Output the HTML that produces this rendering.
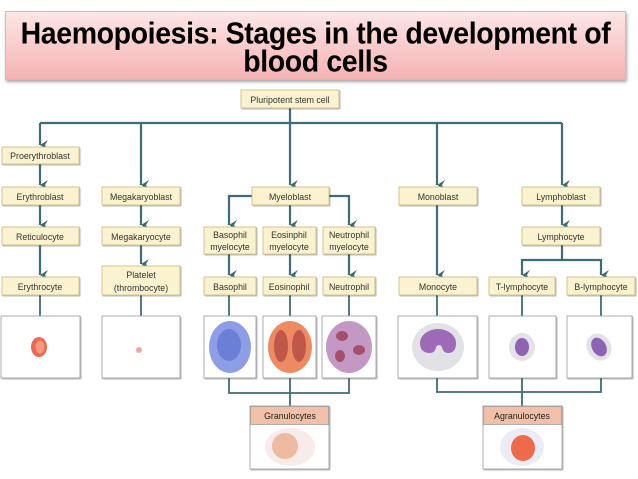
<!DOCTYPE html>
<html><head><meta charset="utf-8"><style>
html,body{margin:0;padding:0;background:#fff;}
body{width:638px;height:479px;overflow:hidden;position:relative;font-family:"Liberation Sans",Arial,sans-serif;}
.title{position:absolute;left:5px;top:11px;width:621px;height:69px;border:1px solid #d8b8b8;box-shadow:1px 2px 3px rgba(0,0,0,0.35);background:linear-gradient(#fde6e6,#f5b3b3);text-align:center;color:#000;box-sizing:border-box;}
.title span{display:block;font-weight:bold;font-size:28.5px;line-height:26px;letter-spacing:-0.4px;transform:scaleY(1.08);transform-origin:50% 0;padding-top:7px;}
svg{position:absolute;left:0;top:0;}
</style></head><body>
<div class="title"><span>Haemopoiesis: Stages in the development of<br>blood cells</span></div>
<svg width="638" height="479" viewBox="0 0 638 479" font-family="Liberation Sans, sans-serif" font-size="8.8" fill="#333">
<defs>
<marker id="a" markerWidth="10" markerHeight="10" refX="5" refY="8" orient="auto-start-reverse" markerUnits="userSpaceOnUse">
<path d="M0,0 L5,8 L10,0 L5,3 Z" fill="#3d6d76"/></marker>
<filter id="s" x="-10%" y="-10%" width="130%" height="140%"><feDropShadow dx="1" dy="1" stdDeviation="0.6" flood-color="#000" flood-opacity="0.3"/></filter>
</defs>
<g stroke="#3d6d76" stroke-width="2.2" fill="none">
<line x1="290" y1="108" x2="290" y2="123"/>
<line x1="40" y1="123" x2="562" y2="123"/>
<line x1="40" y1="123" x2="40" y2="145" marker-end="url(#a)"/>
<line x1="141" y1="123" x2="141" y2="185" marker-end="url(#a)"/>
<line x1="290" y1="123" x2="290" y2="185" marker-end="url(#a)"/>
<line x1="437" y1="123" x2="437" y2="185" marker-end="url(#a)"/>
<line x1="562" y1="123" x2="562" y2="185" marker-end="url(#a)"/>
<line x1="40" y1="164" x2="40" y2="185" marker-end="url(#a)"/>
<line x1="40" y1="205" x2="40" y2="225" marker-end="url(#a)"/>
<line x1="40" y1="245" x2="40" y2="275" marker-end="url(#a)"/>
<line x1="141" y1="205" x2="141" y2="225" marker-end="url(#a)"/>
<line x1="141" y1="245" x2="141" y2="264" marker-end="url(#a)"/>
<polyline points="252,196 229,196 229,225" marker-end="url(#a)"/>
<polyline points="329,196 349,196 349,225" marker-end="url(#a)"/>
<line x1="290" y1="205" x2="290" y2="225" marker-end="url(#a)"/>
<line x1="229" y1="254" x2="229" y2="275" marker-end="url(#a)"/>
<line x1="290" y1="254" x2="290" y2="275" marker-end="url(#a)"/>
<line x1="349" y1="254" x2="349" y2="275" marker-end="url(#a)"/>
<line x1="437" y1="205" x2="437" y2="275" marker-end="url(#a)"/>
<line x1="562" y1="205" x2="562" y2="225" marker-end="url(#a)"/>
<line x1="562" y1="245" x2="562" y2="260"/>
<polyline points="522,275 522,260 601,260 601,275" marker-start="url(#a)" marker-end="url(#a)"/>
</g>
<g stroke="#3d6d76" stroke-width="1.8" fill="none">
<line x1="40" y1="295" x2="40" y2="316"/><line x1="141" y1="295" x2="141" y2="316"/>
<line x1="229" y1="295" x2="229" y2="316"/><line x1="290" y1="295" x2="290" y2="316"/><line x1="349" y1="295" x2="349" y2="316"/>
<line x1="437" y1="295" x2="437" y2="316"/><line x1="522" y1="295" x2="522" y2="316"/><line x1="601" y1="295" x2="601" y2="316"/>
<polyline points="229,378 229,393 349,393 349,378"/><line x1="290" y1="378" x2="290" y2="407"/>
<polyline points="437,378 437,392 601,392 601,378"/><line x1="522" y1="378" x2="522" y2="407"/>
</g>
<g fill="#fbf3cf" stroke="#c9b978" stroke-width="0.8" filter="url(#s)">
<rect x="241" y="90" width="98" height="18"/>
<rect x="2" y="147" width="77" height="17"/>
<rect x="2" y="187" width="77" height="18"/><rect x="102" y="187" width="78" height="18"/><rect x="252" y="187" width="77" height="18"/><rect x="399" y="187" width="78" height="18"/><rect x="522" y="187" width="78" height="18"/>
<rect x="2" y="227" width="77" height="18"/><rect x="102" y="227" width="78" height="18"/><rect x="204" y="227" width="52" height="27"/><rect x="263" y="227" width="53" height="27"/><rect x="323" y="227" width="52" height="27"/><rect x="522" y="227" width="78" height="18"/>
<rect x="2" y="277" width="77" height="18"/><rect x="102" y="266" width="78" height="29"/><rect x="204" y="277" width="52" height="18"/><rect x="263" y="277" width="53" height="18"/><rect x="323" y="277" width="52" height="18"/><rect x="399" y="277" width="78" height="18"/><rect x="489" y="277" width="66" height="18"/><rect x="567" y="277" width="68" height="18"/>
</g>
<g fill="#fff" stroke="#999" stroke-width="0.8" filter="url(#s)">
<rect x="1" y="316" width="79" height="62"/><rect x="102" y="316" width="78" height="62"/><rect x="204" y="316" width="52" height="62"/><rect x="263" y="316" width="53" height="62"/><rect x="322" y="316" width="54" height="62"/><rect x="398" y="316" width="79" height="62"/><rect x="489" y="316" width="67" height="62"/><rect x="567" y="316" width="65" height="62"/>
<rect x="250" y="406" width="79" height="63"/><rect x="483" y="406" width="79" height="63"/>
</g>
<rect x="250.4" y="406.4" width="78.2" height="18" fill="#f1c0a6" stroke="#999" stroke-width="0.8"/>
<rect x="483.4" y="406.4" width="78.2" height="18" fill="#f1c0a6" stroke="#999" stroke-width="0.8"/>
<g text-anchor="middle">
<text x="290" y="103">Pluripotent stem cell</text>
<text x="40" y="159">Proerythroblast</text>
<text x="40" y="200">Erythroblast</text><text x="141" y="200">Megakaryoblast</text><text x="290" y="200">Myeloblast</text><text x="438" y="200">Monoblast</text><text x="561" y="200">Lymphoblast</text>
<text x="40" y="240">Reticulocyte</text><text x="141" y="240">Megakaryocyte</text><text x="561" y="240">Lymphocyte</text>
<text x="230" y="238">Basophil</text><text x="230" y="250">myelocyte</text>
<text x="289" y="238">Eosinphil</text><text x="289" y="250">myelocyte</text>
<text x="349" y="238">Neutrophil</text><text x="349" y="250">myelocyte</text>
<text x="40" y="290">Erythrocyte</text><text x="141" y="278">Platelet</text><text x="141" y="291">(thrombocyte)</text>
<text x="230" y="290">Basophil</text><text x="289" y="290">Eosinophil</text><text x="349" y="290">Neutrophil</text><text x="438" y="290">Monocyte</text><text x="522" y="290">T-lymphocyte</text><text x="601" y="290">B-lymphocyte</text>
<text x="290" y="419" fill="#222">Granulocytes</text><text x="522" y="419" fill="#222">Agranulocytes</text>
</g>
<ellipse cx="39" cy="347" rx="8" ry="10" fill="#ec6a4e"/><ellipse cx="40" cy="347" rx="4.5" ry="6.5" fill="#f39a80"/>
<circle cx="139" cy="350" r="3" fill="#f0a898"/>
<ellipse cx="230" cy="347" rx="21" ry="26" fill="#8e9ee6"/><ellipse cx="229" cy="345" rx="12" ry="16" fill="#6c7fd6"/>
<ellipse cx="290" cy="347" rx="22" ry="26" fill="#ee8a62"/><ellipse cx="281" cy="346" rx="7" ry="16" fill="#c0584a"/><ellipse cx="299" cy="346" rx="7" ry="16" fill="#c0584a"/>
<ellipse cx="349" cy="347" rx="23" ry="26" fill="#c498c4"/><ellipse cx="342" cy="336" rx="6" ry="5" fill="#a5506a"/><ellipse cx="359" cy="350" rx="6" ry="5" fill="#a5506a"/><ellipse cx="340" cy="356" rx="5" ry="6" fill="#a5506a"/>
<ellipse cx="438" cy="347" rx="26" ry="24" fill="#e2e2e6"/><path d="M420,343 a18,14 0 0 1 36,0 q0,10 -8,10 q-5,0 -6,-6 q-3,-4 -6,0 q-1,6 -6,6 q-10,0 -10,-10z" fill="#9e6ab8"/>
<ellipse cx="522" cy="347" rx="13" ry="14" fill="#e2e2e8"/><ellipse cx="522" cy="347" rx="7" ry="9" fill="#8f63b3"/>
<ellipse cx="599" cy="347" rx="12" ry="14" fill="#e2e2e8" transform="rotate(-30 599 347)"/><ellipse cx="599" cy="347" rx="7" ry="10" fill="#8f63b3" transform="rotate(-30 599 347)"/>
<ellipse cx="290" cy="447" rx="25" ry="19" fill="#f7eceb"/><ellipse cx="285" cy="446" rx="13" ry="13" fill="#efbba0"/>
<ellipse cx="522" cy="447" rx="22" ry="19" fill="#ececf4"/><ellipse cx="523" cy="448" rx="12" ry="13" fill="#ef6a4a"/>
</svg>
</body></html>
